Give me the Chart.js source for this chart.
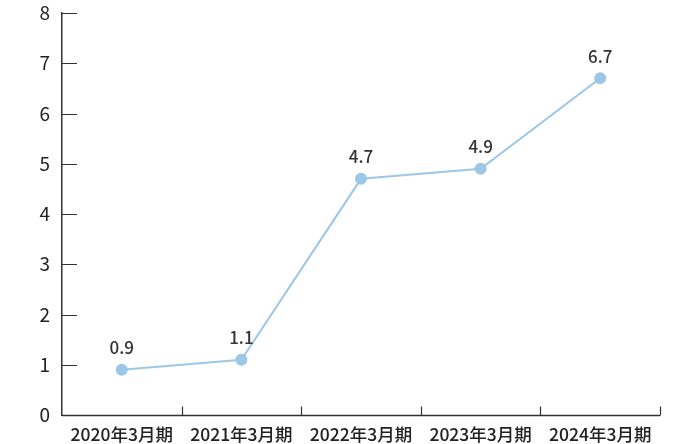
<!DOCTYPE html>
<html>
<head>
<meta charset="utf-8">
<script src="https://cdn.jsdelivr.net/npm/chart.js@4"></script>
<style>
  body { margin: 0; background: #fff; }
  #wrap { width: 690px; height: 444px; }
</style>
</head>
<body>
<div id="wrap"><canvas id="chart"></canvas></div>
<script>
const periods = ['2020年3月期', '2021年3月期', '2022年3月期', '2023年3月期', '2024年3月期'];
const values = [0.9, 1.1, 4.7, 4.9, 6.7];
const yTicks = [0, 1, 2, 3, 4, 5, 6, 7, 8];

const fontFamily = '"Noto Sans CJK JP", "Noto Sans", sans-serif';
const axisColor = '#333';

// bottom axis line plus inward tick marks on both axes
const tickMarks = {
    id: 'tickMarks',
    afterDraw(chart) {
        const ctx = chart.ctx;
        const x = chart.scales.x;
        const y = chart.scales.y;
        ctx.save();
        ctx.strokeStyle = axisColor;
        ctx.lineWidth = 1.5;
        ctx.beginPath();
        const base = Math.round(y.getPixelForValue(0)) + 0.5;
        ctx.moveTo(x.left, base);
        ctx.lineTo(x.right, base);
        ctx.stroke();

        ctx.lineWidth = 1.2;
        ctx.beginPath();
        yTicks.forEach(v => {
            const py = Math.round(y.getPixelForValue(v)) + 0.5;
            ctx.moveTo(x.left, py);
            ctx.lineTo(x.left + 15, py);
        });
        const step = x.getPixelForValue(1) - x.getPixelForValue(0);
        for (let i = 0; i < periods.length; i++) {
            const px = Math.round(x.getPixelForValue(i) + step / 2) + 0.5;
            ctx.moveTo(px, base);
            ctx.lineTo(px, base - 9);
        }
        ctx.stroke();
        ctx.restore();
    }
};

// value labels above the points
const valueLabels = {
    id: 'valueLabels',
    afterDatasetsDraw(chart) {
        const ctx = chart.ctx;
        const meta = chart.getDatasetMeta(0);
        ctx.save();
        ctx.fillStyle = '#333';
        ctx.font = '500 17px ' + fontFamily;
        ctx.textAlign = 'center';
        ctx.textBaseline = 'middle';
        meta.data.forEach((pt, i) => {
            ctx.fillText(values[i].toFixed(1), pt.x, pt.y - 22);
        });
        ctx.restore();
    }
};

new Chart(document.getElementById('chart'), {
    type: 'line',
    data: {
        labels: periods,
        datasets: [{
            data: values,
            borderColor: '#9dc7e6',
            backgroundColor: '#9dc7e6',
            borderWidth: 2,
            pointRadius: 5,
            pointHoverRadius: 5,
            tension: 0
        }]
    },
    options: {
        responsive: true,
        maintainAspectRatio: false,
        animation: false,
        layout: { padding: { top: 13, right: 30, left: 0, bottom: 0 } },
        plugins: { legend: { display: false }, tooltip: { enabled: false } },
        scales: {
            x: {
                offset: true,
                grid: { display: false, drawTicks: false },
                border: { display: false },
                ticks: { color: '#222', padding: 9, maxRotation: 0, font: { family: fontFamily, size: 17.5, weight: '500' } },
                afterFit(scale) { scale.height = 29; }
            },
            y: {
                min: 0,
                max: 8,
                grid: { display: false, drawTicks: false },
                border: { display: true, color: axisColor, width: 1.5 },
                afterBuildTicks(scale) { scale.ticks = yTicks.map(v => ({ value: v })); },
                ticks: { color: '#222', padding: 12, font: { family: fontFamily, size: 19 } },
                afterFit(scale) {
                    scale.width = 62;
                    scale.paddingTop = 0;
                    scale.paddingBottom = 0;
                }
            }
        }
    },
    plugins: [tickMarks, valueLabels]
});
</script>
</body>
</html>
